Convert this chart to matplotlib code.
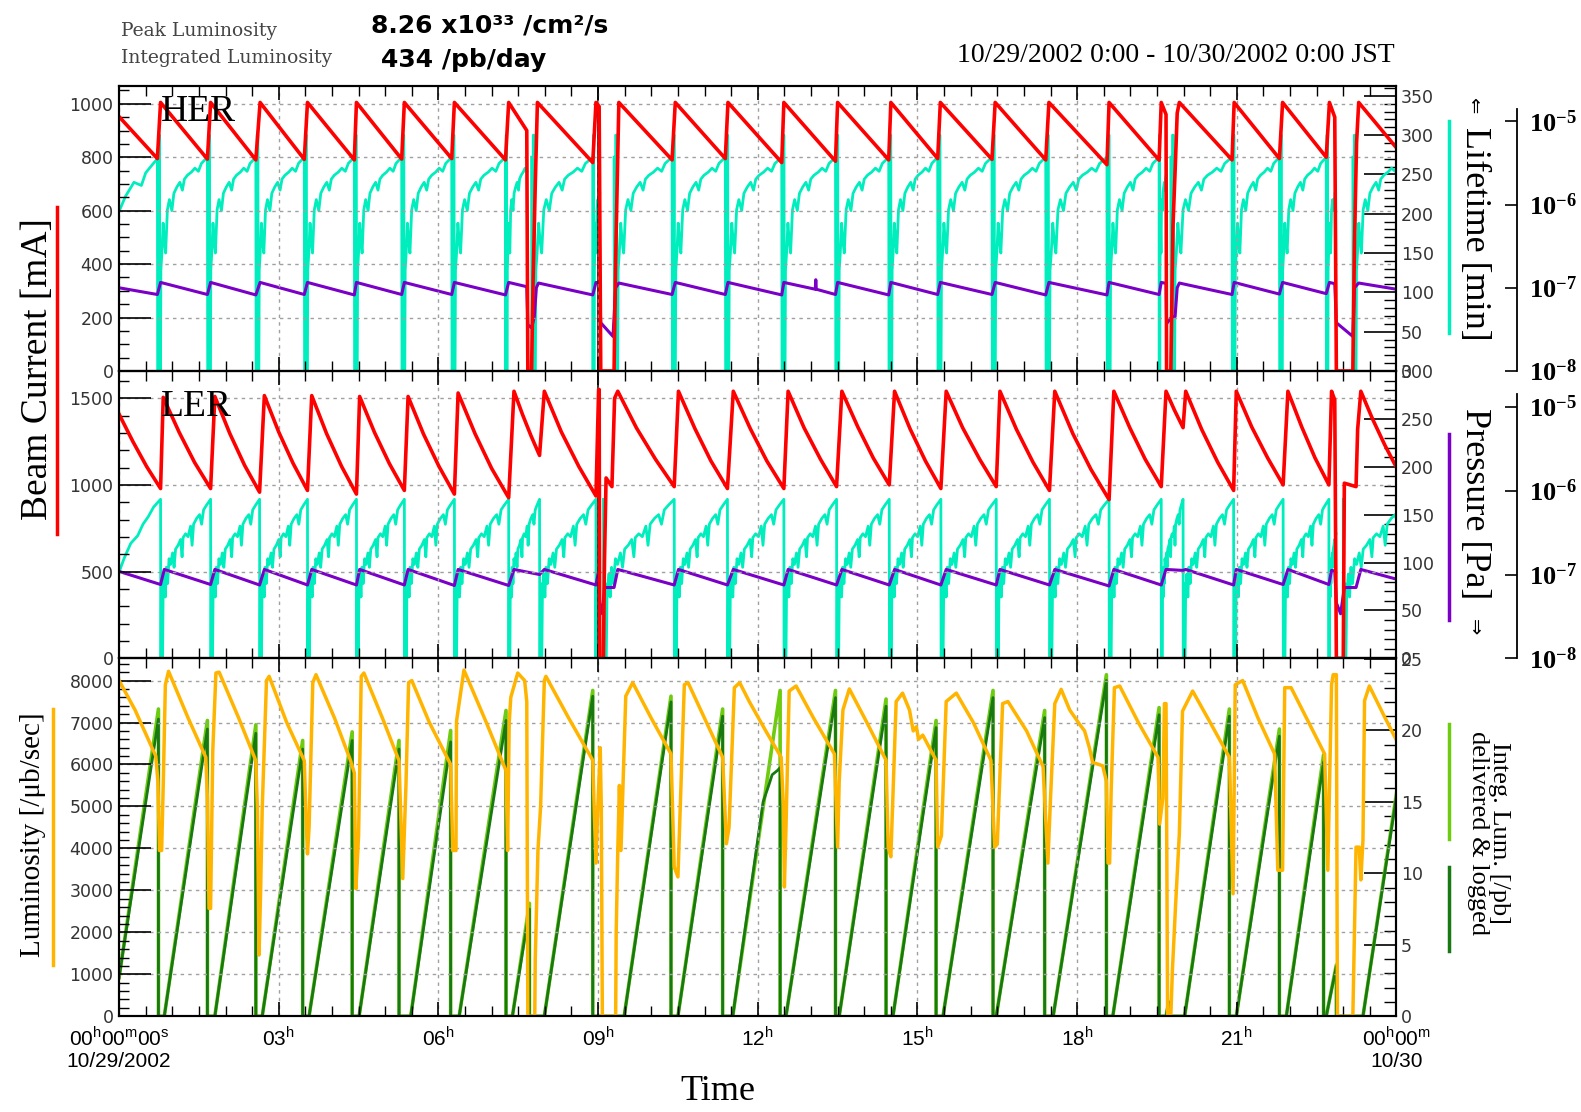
import numpy as np
import matplotlib
matplotlib.use("Agg")
import matplotlib.pyplot as plt
from matplotlib import font_manager
from matplotlib.lines import Line2D
from matplotlib.transforms import blended_transform_factory
from matplotlib.ticker import MultipleLocator, FixedLocator, FuncFormatter, NullLocator

installed = {f.name for f in font_manager.fontManager.ttflist}
NARROW = 'Liberation Sans Narrow' if 'Liberation Sans Narrow' in installed else 'Liberation Sans'
SERIF = ['Liberation Serif', 'DejaVu Serif']

plt.rcParams['font.family'] = ['DejaVu Sans']
plt.rcParams['mathtext.fontset'] = 'custom'
plt.rcParams['mathtext.rm'] = NARROW
plt.rcParams['mathtext.bf'] = 'Liberation Serif:bold'

RED = '#ff0000'
CYAN = '#00eebe'
PURPLE = '#7a00c8'
ORANGE = '#ffb400'
DKGREEN = '#187812'
LTGREEN = '#6dcc10'

# ---- HER (top) : beam current [mA], time in hours of 10/29 ----
her_current = [
    (0.00, 952), (0.72, 795), (0.78, 1005), (1.66, 793), (1.72, 1005),
    (2.57, 790), (2.65, 1005), (3.48, 792), (3.54, 1005), (4.42, 790), (4.46, 1005),
    (5.31, 793), (5.36, 1005), (6.25, 795), (6.30, 1005), (7.26, 790), (7.32, 1005),
    (7.66, 900), (7.68, 0), (7.75, 0), (7.78, 350), (7.82, 700), (7.86, 1005),
    (8.90, 780), (8.96, 1005), (9.02, 990), (9.05, 0), (9.30, 0), (9.33, 420), (9.39, 1005),
    (10.39, 790), (10.45, 1005), (11.39, 795), (11.44, 1005), (12.45, 780), (12.49, 1005),
    (13.46, 785), (13.50, 1005), (14.46, 790), (14.50, 1005), (15.38, 795), (15.43, 1005),
    (16.40, 792), (16.46, 1005), (17.41, 790), (17.47, 1005), (18.56, 772), (18.60, 1005),
    (19.54, 789), (19.58, 1005), (19.67, 960), (19.68, 0), (19.76, 0), (19.80, 540),
    (19.84, 745), (19.88, 965), (19.92, 1005), (20.91, 790), (20.95, 1005),
    (21.80, 795), (21.86, 1005), (22.68, 800), (22.74, 1005), (22.84, 950),
    (22.87, 0), (23.18, 0), (23.21, 475), (23.25, 855), (23.29, 1005), (24.00, 835),
]

# HER vacuum pressure [Pa]
her_pressure = [
    (0.00, 1.00e-7), (0.72, 8.3e-8), (0.78, 1.16e-7), (1.66, 8.3e-8), (1.72, 1.16e-7),
    (2.57, 8.2e-8), (2.65, 1.16e-7), (3.48, 8.3e-8), (3.54, 1.16e-7), (4.42, 8.2e-8), (4.46, 1.16e-7),
    (5.31, 8.3e-8), (5.36, 1.16e-7), (6.25, 8.3e-8), (6.30, 1.16e-7), (7.26, 8.2e-8), (7.32, 1.16e-7),
    (7.66, 1.03e-7), (7.68, 3.6e-8), (7.75, 3.3e-8), (7.80, 4.4e-8), (7.84, 1.0e-7), (7.88, 1.14e-7),
    (8.90, 8.2e-8), (8.96, 1.16e-7), (9.02, 1.13e-7), (9.05, 3.8e-8), (9.28, 2.6e-8), (9.33, 1.0e-7),
    (9.39, 1.14e-7), (10.39, 8.3e-8), (10.45, 1.16e-7), (11.39, 8.3e-8), (11.44, 1.16e-7),
    (12.45, 8.2e-8), (12.49, 1.16e-7), (13.08, 9.6e-8), (13.09, 1.25e-7), (13.10, 9.6e-8),
    (13.46, 8.3e-8), (13.50, 1.16e-7), (14.46, 8.2e-8), (14.50, 1.16e-7), (15.38, 8.3e-8), (15.43, 1.16e-7),
    (16.40, 8.3e-8), (16.46, 1.16e-7), (17.41, 8.2e-8), (17.47, 1.16e-7), (18.56, 8.2e-8), (18.60, 1.16e-7),
    (19.54, 8.3e-8), (19.58, 1.16e-7), (19.67, 1.13e-7), (19.68, 3.7e-8), (19.78, 4.5e-8),
    (19.84, 4.5e-8), (19.88, 1.0e-7), (19.92, 1.14e-7), (20.91, 8.3e-8), (20.95, 1.16e-7),
    (21.80, 8.4e-8), (21.86, 1.16e-7), (22.68, 8.5e-8), (22.74, 1.16e-7), (22.84, 1.12e-7),
    (22.87, 3.8e-8), (23.18, 2.6e-8), (23.21, 1.0e-7), (23.29, 1.14e-7), (24.00, 9.6e-8),
]

# HER beam lifetime [min]: start of run, injection times, one typical fill
her_life_head = [(0.00, 203), (0.12, 222), (0.28, 240), (0.42, 236), (0.50, 252), (0.62, 262), (0.72, 270)]
her_life_fills = [0.72, 1.66, 2.57, 3.48, 4.42, 5.31, 6.25, 7.26, 7.75, 8.90, 9.30, 10.39, 11.39,
                  12.45, 13.46, 14.46, 15.38, 16.40, 17.41, 18.56, 19.54, 19.76, 20.91, 21.80,
                  22.68, 23.18, 24.15]
her_life_frac = [0.000, 0.006, 0.022, 0.028, 0.042, 0.048, 0.062, 0.070, 0.090, 0.115, 0.140,
                 0.165, 0.200, 0.240, 0.290, 0.330, 0.390, 0.450, 0.500, 0.540, 0.600, 0.680,
                 0.750, 0.820, 0.880, 0.940, 1.000]
her_life_min = [272, 0, 0, 300, 300, 0, 0, 128, 150, 188, 165,
                150, 205, 218, 204, 226, 234, 240, 230, 244, 249, 253,
                258, 254, 264, 268, 272]
her_beam_off = [(7.68, 7.75), (9.05, 9.30), (19.68, 19.76), (22.87, 23.18)]

# ---- LER (middle) ----
ler_current = [
    (0.00, 1408), (0.26, 1250), (0.52, 1105), (0.78, 979),
    (0.83, 1505), (1.13, 1303), (1.42, 1129), (1.72, 979),
    (1.80, 1510), (2.08, 1297), (2.36, 1112), (2.64, 958),
    (2.73, 1515), (3.00, 1305), (3.27, 1124), (3.54, 968),
    (3.62, 1515), (3.90, 1295), (4.18, 1107), (4.46, 947),
    (4.52, 1510), (4.80, 1302), (5.08, 1122), (5.36, 968),
    (5.43, 1510), (5.72, 1293), (6.01, 1107), (6.30, 947),
    (6.37, 1530), (6.69, 1294), (7.00, 1095), (7.32, 926),
    (7.42, 1540), (7.58, 1406), (7.74, 1283), (7.90, 1170),
    (7.99, 1540), (8.31, 1305), (8.64, 1105), (8.96, 936),
    (9.01, 1550), (9.02, 1550), (9.03, 0), (9.10, 0), (9.12, 560), (9.15, 1040),
    (9.26, 990), (9.31, 1500), (9.37, 1540),
    (9.72, 1329), (10.08, 1147), (10.43, 990),
    (10.51, 1540), (10.82, 1324), (11.12, 1138), (11.43, 979),
    (11.54, 1540), (11.86, 1324), (12.17, 1138), (12.49, 979),
    (12.57, 1540), (12.87, 1329), (13.18, 1147), (13.48, 990),
    (13.58, 1540), (13.88, 1334), (14.17, 1155), (14.47, 1000),
    (14.57, 1540), (14.86, 1324), (15.15, 1138), (15.44, 979),
    (15.54, 1540), (15.85, 1329), (16.17, 1147), (16.48, 990),
    (16.55, 1540), (16.86, 1320), (17.17, 1131), (17.48, 968),
    (17.58, 1540), (17.92, 1295), (18.26, 1089), (18.60, 915),
    (18.69, 1540), (18.99, 1329), (19.28, 1147), (19.58, 990),
    (19.67, 1540), (19.83, 1430), (19.99, 1330),
    (20.04, 1540), (20.34, 1320), (20.64, 1131), (20.94, 968),
    (20.99, 1540), (21.28, 1334), (21.58, 1155), (21.87, 1000),
    (21.96, 1540), (22.22, 1334), (22.47, 1155), (22.73, 1000),
    (22.78, 1540), (22.84, 1490), (22.87, 0), (23.00, 0), (23.02, 1010), (23.24, 990),
    (23.27, 1320), (23.33, 1540),
    (23.55, 1380), (23.78, 1230), (24.00, 1100),
]

ler_pressure = [
    (0.00, 1.09e-7), (0.78, 7.6e-8), (0.85, 1.15e-7), (1.72, 7.6e-8), (1.80, 1.15e-7),
    (2.64, 7.5e-8), (2.73, 1.15e-7), (3.54, 7.5e-8), (3.62, 1.15e-7), (4.46, 7.5e-8), (4.52, 1.15e-7),
    (5.36, 7.5e-8), (5.43, 1.15e-7), (6.30, 7.4e-8), (6.37, 1.15e-7), (7.32, 7.4e-8), (7.42, 1.15e-7),
    (7.90, 1.0e-7), (7.99, 1.15e-7), (8.96, 7.5e-8), (9.01, 1.1e-7), (9.03, 4.6e-8), (9.08, 3.4e-8),
    (9.12, 7.0e-8), (9.30, 7.0e-8), (9.37, 1.15e-7),
    (10.43, 7.5e-8), (10.51, 1.15e-7), (11.43, 7.5e-8), (11.54, 1.15e-7), (12.49, 7.5e-8), (12.57, 1.15e-7),
    (13.48, 7.5e-8), (13.58, 1.15e-7), (14.47, 7.5e-8), (14.57, 1.15e-7), (15.44, 7.5e-8), (15.54, 1.15e-7),
    (16.48, 7.5e-8), (16.55, 1.15e-7), (17.48, 7.5e-8), (17.58, 1.15e-7), (18.60, 7.3e-8), (18.69, 1.15e-7),
    (19.58, 7.5e-8), (19.67, 1.15e-7), (19.99, 1.12e-7), (20.04, 1.15e-7), (20.94, 7.5e-8), (20.99, 1.15e-7),
    (21.87, 7.6e-8), (21.96, 1.15e-7), (22.73, 7.6e-8), (22.78, 1.12e-7), (22.84, 1.1e-7),
    (22.87, 4.6e-8), (22.95, 3.4e-8), (23.02, 7.0e-8), (23.24, 7.0e-8), (23.33, 1.15e-7), (24.00, 8.8e-8),
]

ler_life_head = [(0.00, 90), (0.10, 105), (0.22, 120), (0.35, 128), (0.45, 140), (0.55, 148), (0.65, 158), (0.78, 166)]
ler_life_fills = [0.78, 1.72, 2.64, 3.54, 4.46, 5.36, 6.30, 7.32, 7.90, 8.96, 9.10, 10.43, 11.43,
                  12.49, 13.48, 14.47, 15.44, 16.48, 17.48, 18.60, 19.58, 19.99, 20.94, 21.87,
                  22.73, 23.00, 24.25]
ler_life_frac = [0.000, 0.004, 0.012, 0.016, 0.026, 0.030, 0.040, 0.050, 0.075, 0.095, 0.115,
                 0.140, 0.170, 0.200, 0.240, 0.270, 0.300, 0.350, 0.400, 0.430, 0.450, 0.500,
                 0.550, 0.600, 0.630, 0.660, 0.720, 0.780, 0.820, 0.860, 0.920, 1.000]
ler_life_min = [166, 0, 0, 78, 78, 0, 0, 62, 88, 64, 95,
                78, 104, 98, 110, 95, 114, 118, 124, 106, 126, 130,
                127, 138, 118, 140, 146, 150, 140, 155, 160, 166]
ler_beam_off = [(9.03, 9.10), (22.87, 23.00)]

# ---- Luminosity [/ub/sec] ----
luminosity = [
    (0.00, 8000), (0.30, 7300), (0.60, 6450), (0.69, 6200), (0.73, 5600), (0.76, 3950), (0.80, 3950),
    (0.83, 5500), (0.87, 7900), (0.93, 8220),
    (1.30, 7100), (1.63, 6170), (1.66, 5200), (1.69, 2570), (1.72, 2570), (1.76, 6300), (1.82, 8180), (1.88, 8200),
    (2.25, 7100), (2.57, 6090), (2.60, 4900), (2.63, 1460), (2.66, 3000), (2.69, 4950), (2.77, 8000), (2.82, 8100),
    (3.15, 7000), (3.48, 6090), (3.52, 4500), (3.54, 3870), (3.57, 4500), (3.64, 7950), (3.70, 8140),
    (4.05, 7100), (4.35, 6090), (4.42, 5800), (4.45, 3040), (4.50, 4300), (4.55, 8100), (4.60, 8180),
    (4.95, 7100), (5.26, 6090), (5.33, 3280), (5.39, 5500), (5.44, 7950), (5.50, 8000),
    (5.83, 7000), (6.23, 6000), (6.25, 5000), (6.27, 3950), (6.33, 3950), (6.34, 7030), (6.48, 8250),
    (6.90, 7000), (7.27, 5850), (7.30, 3950), (7.33, 7000), (7.36, 7600), (7.49, 8180), (7.62, 8000),
    (7.66, 7500), (7.68, 0), (7.81, 0), (7.82, 1400), (7.87, 3950), (7.92, 5000), (7.99, 8000), (8.02, 8100),
    (8.45, 7100), (8.90, 6100), (8.93, 4800), (8.96, 3650), (8.99, 4800), (9.04, 6400), (9.06, 5000),
    (9.08, 0), (9.33, 0), (9.34, 2000), (9.37, 3950), (9.40, 5500), (9.43, 3950), (9.52, 7630), (9.65, 7950),
    (10.00, 7100), (10.37, 6250), (10.43, 3560), (10.50, 3320), (10.62, 7900), (10.69, 7950),
    (11.00, 7100), (11.34, 6170), (11.41, 4110), (11.46, 4500), (11.56, 7830), (11.66, 7950),
    (11.84, 7500), (12.15, 6800), (12.44, 6170), (12.48, 5000), (12.50, 3080), (12.53, 4500), (12.59, 7750), (12.72, 7870),
    (13.05, 7100), (13.44, 6250), (13.50, 4030), (13.53, 5600), (13.60, 7300), (13.72, 7800),
    (14.05, 7000), (14.41, 6100), (14.45, 4030), (14.50, 3800), (14.60, 7500), (14.72, 7700),
    (14.85, 7300), (14.92, 6800), (14.98, 6900), (15.02, 6600), (15.10, 6700),
    (15.35, 6100), (15.38, 4030), (15.45, 4300), (15.54, 7500), (15.73, 7700),
    (16.05, 7000), (16.38, 6100), (16.45, 4030), (16.50, 4100), (16.60, 7450), (16.70, 7500),
    (17.05, 6800), (17.36, 5950), (17.45, 3650), (17.50, 5200), (17.58, 7450), (17.70, 7790),
    (17.86, 7300), (18.05, 6950), (18.14, 6800), (18.23, 6400), (18.29, 6050), (18.48, 5970), (18.55, 5600),
    (18.58, 3650), (18.61, 3650), (18.64, 5400), (18.70, 7830), (18.80, 7870),
    (19.15, 7000), (19.52, 6170), (19.55, 4580), (19.61, 5200), (19.64, 7450), (19.67, 7450), (19.70, 0),
    (19.76, 0), (19.79, 1100), (19.85, 2660), (19.92, 4350), (19.98, 7270), (20.17, 7750),
    (20.50, 7000), (20.86, 6170), (20.93, 2920), (20.97, 7900), (21.11, 8000),
    (21.40, 7100), (21.71, 6250), (21.77, 3480), (21.86, 3480), (21.90, 7830), (22.02, 7830),
    (22.35, 7000), (22.65, 6250), (22.71, 3480), (22.78, 7900), (22.81, 8140), (22.87, 8140), (22.89, 0),
    (23.18, 0), (23.21, 2050), (23.24, 4030), (23.30, 4030), (23.33, 3250), (23.37, 4200), (23.40, 7520), (23.49, 7870),
    (23.75, 7200), (23.99, 6600),
]

# ---- Integrated luminosity per fill [/pb] ----
int_start = [0.00, 0.85, 1.80, 2.69, 3.57, 4.51, 5.48, 6.39, 7.39, 7.99, 9.49, 10.50, 11.53,
             12.53, 13.53, 14.54, 15.48, 16.48, 17.55, 18.67, 19.67, 20.02, 20.99, 21.93, 22.68, 23.37]
int_end = [0.74, 1.66, 2.57, 3.45, 4.38, 5.26, 6.23, 7.27, 7.71, 8.90, 10.37, 11.34, 12.42,
           13.46, 14.41, 15.35, 16.42, 17.39, 18.55, 19.54, 19.72, 20.86, 21.80, 22.63, 22.87, 24.00]
logged_peak = [20.8, 20.1, 19.8, 18.7, 19.3, 18.7, 19.2, 20.7, 7.5, 22.4, 22.0, 21.0, 17.4,
               22.3, 21.7, 20.2, 22.3, 20.9, 23.5, 21.1, 1.0, 21.0, 19.6, 17.8, 3.5, 15.4]
delivered_peak = [21.5, 20.7, 20.4, 19.3, 19.9, 19.3, 20.0, 21.4, 7.9, 22.8, 22.4, 21.5, 22.8,
                  22.8, 22.2, 20.7, 22.8, 21.4, 23.9, 21.6, 1.0, 21.5, 20.1, 18.3, 3.6, 15.6]
int_first = 2.7
logged_stall = [(12.10, 15.0), (12.21, 16.2), (12.27, 16.9), (12.37, 17.2)]


def unzip(pts):
    t, v = zip(*pts)
    return np.array(t, float), np.array(v, float)


def lifetime_line(head, fills, frac, vals, off):
    t = [p[0] for p in head]
    v = [p[1] for p in head]
    for a, b in zip(fills[:-1], fills[1:]):
        t += [a + f * (b - a) for f in frac]
        v += list(vals)
    t = np.array(t)
    v = np.array(v, float)
    for lo, hi in off:
        v[(t > lo) & (t < hi)] = np.nan
    return t, v


def integ_line(start, end, peak, first):
    t, v = [], []
    for i, (a, b, p) in enumerate(zip(start, end, peak)):
        t += [a, b]
        v += [first if i == 0 else 0.0, p]
        if b < 24:
            t.append(b)
            v.append(0.0)
    return np.array(t), np.array(v)


fig = plt.figure(figsize=(15.81, 11.12), dpi=100)
L, W = 0.0753, 0.808
ax_her = fig.add_axes([L, 0.6664, W, 0.2566])
ax_ler = fig.add_axes([L, 0.4080, W, 0.2584], sharex=ax_her)
ax_lum = fig.add_axes([L, 0.0861, W, 0.3219], sharex=ax_her)

TICKC = '#333333'


def setup_main(ax, ymax, major, minor):
    ax.set_xlim(0, 24)
    ax.set_ylim(0, ymax)
    ax.xaxis.set_major_locator(MultipleLocator(3))
    ax.xaxis.set_minor_locator(MultipleLocator(0.5))
    ax.yaxis.set_major_locator(MultipleLocator(major))
    ax.yaxis.set_minor_locator(MultipleLocator(minor))
    ax.tick_params(axis='x', which='major', direction='in', length=10, width=1.2, top=True, bottom=True)
    ax.tick_params(axis='x', which='minor', direction='in', length=7, width=1.0, top=True, bottom=True)
    ax.tick_params(axis='y', which='major', direction='in', length=23, width=1.2, left=True, right=False,
                   labelsize=12.5, labelcolor=TICKC, pad=4)
    ax.tick_params(axis='y', which='minor', direction='in', length=7, width=1.0, left=True, right=False)
    ax.grid(True, which='major', ls=(0, (2.5, 3)), color='#a0a0a0', lw=1.0)
    for s in ax.spines.values():
        s.set_linewidth(1.5)
    ax.patch.set_visible(False)
    ax.set_zorder(5)


def setup_right(ax, ymax, major, minor):
    ax.set_ylim(0, ymax)
    ax.yaxis.set_major_locator(MultipleLocator(major))
    ax.yaxis.set_minor_locator(MultipleLocator(minor))
    ax.tick_params(axis='y', which='major', direction='in', length=23, width=1.2, left=False, right=True,
                   labelsize=12.5, labelcolor=TICKC, pad=3)
    ax.tick_params(axis='y', which='minor', direction='in', length=9, width=1.0, left=False, right=True)
    for s in ax.spines.values():
        s.set_linewidth(1.5)
    ax.set_zorder(1)


def setup_pressure(ax):
    ax.set_yscale('log')
    ax.set_ylim(1e-8, 10 ** -4.57)
    ax.yaxis.set_major_locator(FixedLocator([1e-8, 1e-7, 1e-6, 1e-5]))
    ax.yaxis.set_minor_locator(NullLocator())
    ax.yaxis.set_major_formatter(FuncFormatter(lambda v, p: r'$\mathbf{10^{%d}}$' % round(np.log10(v))))
    for side in ['left', 'top', 'bottom']:
        ax.spines[side].set_visible(False)
    ax.spines['right'].set_position(('axes', 1.0947))
    ax.spines['right'].set_bounds(1e-8, 10 ** -4.85)
    ax.spines['right'].set_linewidth(1.3)
    ax.tick_params(axis='y', which='major', direction='in', length=9, width=1.2, left=False, right=True,
                   labelsize=19, pad=8)
    ax.set_zorder(2)


# top: HER
setup_main(ax_her, 1068, 200, 50)
life_her = ax_her.twinx()
setup_right(life_her, 363, 50, 10)
pres_her = ax_her.twinx()
setup_pressure(pres_her)

t, v = lifetime_line(her_life_head, her_life_fills, her_life_frac, her_life_min, her_beam_off)
life_her.plot(t, v, color=CYAN, lw=2.0)
t, v = unzip(her_pressure)
pres_her.plot(t, v, color=PURPLE, lw=2.2)
t, v = unzip(her_current)
ax_her.plot(t, v, color=RED, lw=2.6)
ax_her.axvline(9, color='#222222', lw=1.3, zorder=1.5)
ax_her.text(0.033, 0.91, 'HER', transform=ax_her.transAxes, family=SERIF, size=27, va='center')
ax_her.tick_params(labelbottom=False)

# middle: LER
setup_main(ax_ler, 1657, 500, 100)
life_ler = ax_ler.twinx()
setup_right(life_ler, 300, 50, 10)
pres_ler = ax_ler.twinx()
setup_pressure(pres_ler)

t, v = lifetime_line(ler_life_head, ler_life_fills, ler_life_frac, ler_life_min, ler_beam_off)
life_ler.plot(t, v, color=CYAN, lw=2.0)
t, v = unzip(ler_pressure)
pres_ler.plot(t, v, color=PURPLE, lw=2.2)
t, v = unzip(ler_current)
ax_ler.plot(t, v, color=RED, lw=2.6)
ax_ler.axvline(9, color='#222222', lw=1.3, zorder=1.5)
ax_ler.text(0.033, 0.877, 'LER', transform=ax_ler.transAxes, family=SERIF, size=27, va='center')
ax_ler.tick_params(labelbottom=False)

# bottom: luminosity
setup_main(ax_lum, 8530, 1000, 200)
int_ax = ax_lum.twinx()
setup_right(int_ax, 25.05, 5, 1)

dt, dv = integ_line(int_start, int_end, delivered_peak, int_first)
int_ax.plot(dt, dv, color=LTGREEN, lw=2.6)
lt, lv = integ_line(int_start, int_end, logged_peak, int_first)
st, sv = unzip(logged_stall)
order = np.argsort(np.concatenate([lt, st]), kind='stable')
int_ax.plot(np.concatenate([lt, st])[order], np.concatenate([lv, sv])[order], color=DKGREEN, lw=2.0)
t, v = unzip(luminosity)
ax_lum.plot(t, v, color=ORANGE, lw=2.5)

xlabels = [r'00$^{\mathrm{h}}$00$^{\mathrm{m}}$00$^{\mathrm{s}}$', r'03$^{\mathrm{h}}$', r'06$^{\mathrm{h}}$',
           r'09$^{\mathrm{h}}$', r'12$^{\mathrm{h}}$', r'15$^{\mathrm{h}}$', r'18$^{\mathrm{h}}$',
           r'21$^{\mathrm{h}}$', r'00$^{\mathrm{h}}$00$^{\mathrm{m}}$']
ax_lum.set_xticks(np.arange(0, 25, 3))
ax_lum.set_xticklabels(xlabels, fontfamily=NARROW, fontsize=15)
ax_lum.tick_params(axis='x', which='major', pad=7)
bt = blended_transform_factory(ax_lum.transData, ax_lum.transAxes)
ax_lum.text(0, -0.127, '10/29/2002', transform=bt, ha='center', va='center', family=NARROW, size=15)
ax_lum.text(24, -0.127, '10/30', transform=bt, ha='center', va='center', family=NARROW, size=15)


def fx(px):
    return px / 1568.0


def fy(py):
    return 1.0 - py / 1103.0


fig.text(fx(712), fy(1083), 'Time', ha='center', va='center', family=SERIF, size=26)

# header
fig.text(fx(120), fy(31), 'Peak Luminosity', family='DejaVu Serif', size=13.5, color='#444444', va='center')
fig.text(fx(120), fy(58), 'Integrated Luminosity', family='DejaVu Serif', size=13.5, color='#444444', va='center')
fig.text(fx(368), fy(25), '8.26 x10³³ /cm²/s', family='DejaVu Sans', weight='bold', size=18, va='center')
fig.text(fx(378), fy(60), '434 /pb/day', family='DejaVu Sans', weight='bold', size=18, va='center')
fig.text(fx(1383), fy(55), '10/29/2002 0:00 - 10/30/2002 0:00 JST', family=SERIF, size=20,
         ha='right', va='center')

# axis titles with colour keys
fig.text(fx(37), fy(366), 'Beam Current [mA]', family=SERIF, size=27, rotation=90, ha='center', va='center')
fig.add_artist(Line2D([fx(57)] * 2, [fy(205), fy(530)], color=RED, lw=2.5, transform=fig.transFigure))
fig.text(fx(33), fy(828), 'Luminosity [/μb/sec]', family=SERIF, size=21, rotation=90, ha='center', va='center')
fig.add_artist(Line2D([fx(53)] * 2, [fy(703), fy(957)], color=ORANGE, lw=2.5, transform=fig.transFigure))

fig.text(fx(1462), fy(104), '⇐', family=['DejaVu Sans'], size=14, rotation=270, ha='center', va='center')
fig.text(fx(1462), fy(232), 'Lifetime [min]', family=SERIF, size=26, rotation=270, ha='center', va='center')
fig.add_artist(Line2D([fx(1437)] * 2, [fy(120), fy(330)], color=CYAN, lw=2.5, transform=fig.transFigure))
fig.text(fx(1462), fy(500), 'Pressure [Pa]', family=SERIF, size=26, rotation=270, ha='center', va='center')
fig.text(fx(1462), fy(622), '⇒', family=['DejaVu Sans'], size=14, rotation=270, ha='center', va='center')
fig.add_artist(Line2D([fx(1437)] * 2, [fy(430), fy(615)], color=PURPLE, lw=2.5, transform=fig.transFigure))
fig.text(fx(1476), fy(826), 'Integ. Lum. [/pb]\ndelivered & logged', family=SERIF, size=19, rotation=270,
         ha='center', va='center', multialignment='center', linespacing=0.95)
fig.add_artist(Line2D([fx(1437)] * 2, [fy(718), fy(832)], color=LTGREEN, lw=2.5, transform=fig.transFigure))
fig.add_artist(Line2D([fx(1437)] * 2, [fy(860), fy(943)], color=DKGREEN, lw=2.5, transform=fig.transFigure))

fig.savefig('out.png', dpi=100)
